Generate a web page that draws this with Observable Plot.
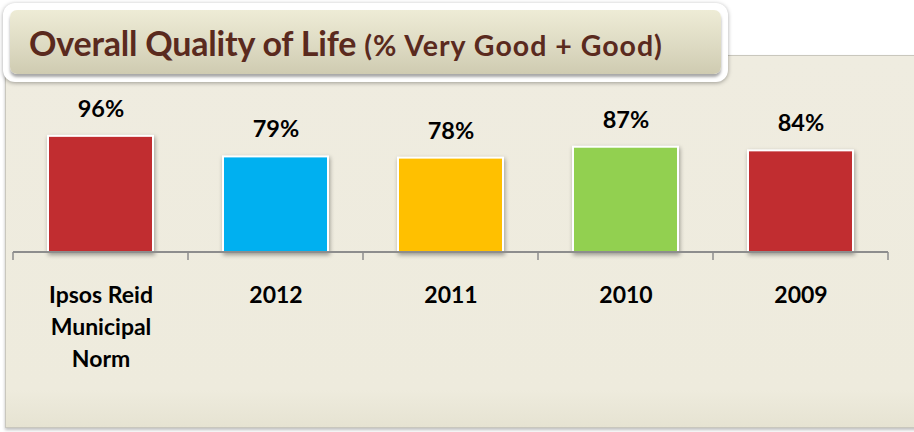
<!DOCTYPE html>
<html>
<head>
<meta charset="utf-8">
<script src="https://cdn.jsdelivr.net/npm/d3@7"></script>
<script src="https://cdn.jsdelivr.net/npm/@observablehq/plot@0.6"></script>
<style>
  html, body { margin: 0; padding: 0; width: 914px; height: 432px; overflow: hidden; background: #ffffff; font-family: Lato, "Open Sans", sans-serif; }
  #panel { position: absolute; left: 5px; top: 55px; width: 912px; height: 371px; background: linear-gradient(#efece0, #eeebdd 90%, #e6e3d2); border: 1px solid #c9c7bd; box-shadow: 0 2px 3px rgba(0,0,0,0.25); }
  #titleOuter { position: absolute; left: 3px; top: 3px; width: 725px; height: 79px; background: #ffffff; border-radius: 12px; box-shadow: 0 1px 4px rgba(0,0,0,0.35); z-index: 2; }
  #titleInner { position: absolute; left: 7px; top: 7px; width: 711px; height: 64px; border-radius: 7px; background: linear-gradient(#eeecd6, #dcd9c1 60%, #cfcbb1); box-shadow: 0 3px 3px rgba(0,0,0,0.35); }
  #titleText { position: absolute; left: 19px; top: 0; height: 64px; line-height: 66px; color: #5a2a1e; font-weight: 700; font-size: 34px; white-space: nowrap; letter-spacing: -0.2px; }
  #titleText span { font-size: 28.5px; letter-spacing: 1px; }
  #chart { position: absolute; left: 0; top: 0; z-index: 1; }
  #chart svg { background: transparent !important; overflow: visible; }
  g[aria-label="bar"] rect { filter: drop-shadow(1px 2px 2px rgba(0,0,0,0.35)); }
</style>
</head>
<body>
<div id="panel"></div>
<div id="titleOuter"><div id="titleInner"><div id="titleText">Overall Quality of Life <span>(% Very Good + Good)</span></div></div></div>
<div id="chart"></div>
<script>
const categories = ["Ipsos Reid\nMunicipal\nNorm", "2012", "2011", "2010", "2009"];
const values = [96, 79, 78, 87, 84];
const colors = ["#c12d30", "#00b0f0", "#ffc000", "#92d050", "#c12d30"];

const data = categories.map((c, i) => ({cat: c, value: values[i], color: colors[i]}));

const padInner = 0.4, padOuter = 0.2;

function axisWithTicks(index, scales, values, dimensions) {
  const x = scales.x, y = scales.y;
  const step = x(categories[1]) - x(categories[0]);
  const bw = step * (1 - padInner);
  const y0 = y(0);
  const bounds = categories.map(c => x(c) - padInner * step / 2);
  bounds.push(x(categories[categories.length - 1]) + bw + padInner * step / 2);
  const g = d3.create("svg:g").attr("stroke", "#8d8d8d");
  g.append("line").attr("x1", bounds[0]).attr("x2", bounds[bounds.length - 1])
    .attr("y1", y0).attr("y2", y0).attr("stroke-width", 2);
  for (const b of bounds) {
    g.append("line").attr("x1", b).attr("x2", b).attr("y1", y0).attr("y2", y0 + 8).attr("stroke-width", 1.5);
  }
  return g.node();
}

const plot = Plot.plot({
  width: 914,
  height: 432,
  marginLeft: 12,
  marginRight: 26,
  marginTop: 131,
  marginBottom: 180,
  style: {background: "transparent", fontFamily: "Lato, 'Open Sans', sans-serif"},
  x: {domain: categories, paddingInner: padInner, paddingOuter: padOuter, axis: null},
  y: {domain: [0, 100], axis: null},
  marks: [
    Plot.barY(data, {x: "cat", y: "value", fill: "color", stroke: "#ffffff", strokeWidth: 2}),
    axisWithTicks,
    Plot.text(data, {x: "cat", y: "value", text: d => d.value + "%", dy: -27, fontSize: 23.5, fontWeight: 700, fill: "#000000"}),
    Plot.text(data, {x: "cat", y: () => 0, text: "cat", lineAnchor: "top", dy: 28, lineHeight: 1.39, fontSize: 23, fontWeight: 700, fill: "#000000"})
  ]
});
document.getElementById("chart").appendChild(plot);
</script>
</body>
</html>
